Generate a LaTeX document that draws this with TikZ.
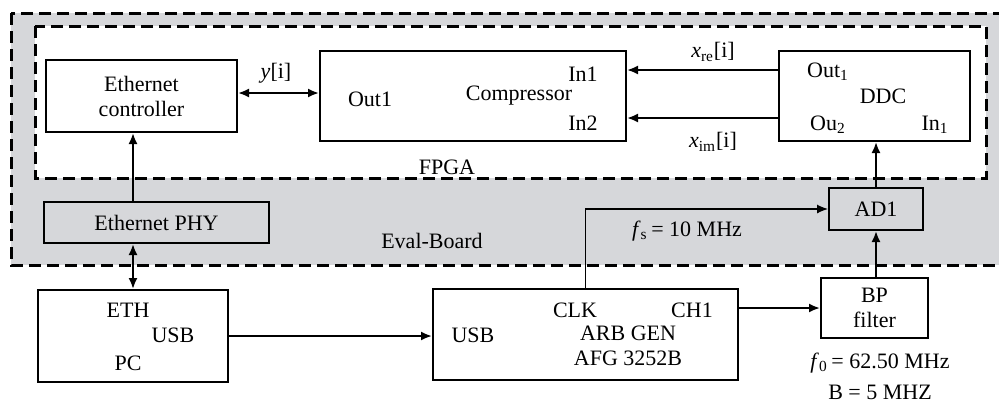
\documentclass[tikz,border=0pt]{standalone}
\usepackage{fontspec}
\setmainfont{Liberation Serif}
\usetikzlibrary{arrows.meta}
\definecolor{boardgray}{RGB}{214,215,218}
\tikzset{
	>={Latex[length=5.5pt,width=4.5pt]},
	blk/.style={draw, line width=1pt, inner sep=0pt},
	sig/.style={line width=1pt},
	frame/.style={line width=1.5pt, dash pattern=on 6pt off 3pt},
}

\begin{document}
\begin{tikzpicture}[x=0.5pt, y=-0.5pt, font=\fontsize{11}{12.5}\selectfont]
			%%%%% START %%%%%
			\useasboundingbox (0,0) rectangle (999,403);
			\clip (0,0) rectangle (999,403);
			
			% board and fpga frames
			\draw[frame, fill=boardgray] (11,13) rectangle (1012,265);
			\draw[frame, fill=white] (35,26) rectangle (986,178);
			\node (fpgalbl) at (447,167) {FPGA};
			\node (evallbl) at (432,241) {Eval-Board};
			
			% fpga blocks
			\node[blk, minimum width=95.5pt, minimum height=36pt, align=center] (ethctrl) at (141.5,96) {Ethernet\\controller};
			\node[blk, minimum width=153pt, minimum height=45pt] (comp) at (473,96) {};
			\node (compname) at (519,96) {Compressor};
			\node (compout) at (370,99) {Out1};
			\node (compin1) at (583,74) {In1};
			\node (compin2) at (583,123) {In2};
			
			\node[blk, minimum width=95.5pt, minimum height=45pt] (ddc) at (874.5,96) {};
			\node (ddcname) at (883,96) {DDC};
			\node (ddcout1) at (828,72) {Out\textsubscript{1}};
			\node (ddcout2) at (828,125) {Ou\textsubscript{2}};
			\node (ddcin1) at (935,125) {In\textsubscript{1}};
			
			% board blocks
			\node[blk, fill=boardgray, minimum width=112.5pt, minimum height=20.5pt] (phy) at (156.5,222.5) {Ethernet PHY};
			\node[blk, fill=boardgray, minimum width=47pt, minimum height=21pt] (ad1) at (876,209) {AD1};
			
			% lab equipment
			\node[blk, minimum width=95pt, minimum height=46pt] (pc) at (133,336) {};
			\node (pceth) at (128,310) {ETH};
			\node (pcusb) at (173,335) {USB};
			\node (pcname) at (128,363) {PC};
			
			\node[blk, minimum width=152.5pt, minimum height=45.5pt] (arb) at (585.5,334.5) {};
			\node (arbusb) at (473,335) {USB};
			\node (arbclk) at (575,310) {CLK};
			\node (arbch1) at (692,310) {CH1};
			\node (arbname) at (628,333) {ARB GEN};
			\node (arbtype) at (628,358) {AFG 3252B};
			
			\node[blk, minimum width=53.5pt, minimum height=30pt, align=center] (bp) at (874.5,308) {BP\\filter};
			\node (bpf0) at (880,363) {\textit{f}\textsubscript{0}\,= 62.50 MHz};
			\node (bpbw) at (880,392) {B = 5 MHZ};
			
			% signal paths
			\draw[sig, <->] ([yshift=1.5pt]ethctrl.east) -- ([yshift=1.5pt]comp.west);
			\node (ylbl) at (276,73) {\textit{y}[i]};
			\draw[sig, ->] ([yshift=13pt]ddc.west) -- ([yshift=13pt]comp.east);
			\node (xrelbl) at (713,52) {\textit{x}\textsubscript{re}[i]};
			\draw[sig, ->] ([yshift=-11pt]ddc.west) -- ([yshift=-11pt]comp.east);
			\node (ximlbl) at (713,142) {\textit{x}\textsubscript{im}[i]};
			
			\draw[sig, ->] (ad1.north) -- (ad1.north |- ddc.south);
			\draw[sig, ->] (ad1.south |- bp.north) -- (ad1.south);
			\draw[sig, ->] (pc.north |- phy.north) -- (pc.north |- ethctrl.south);
			\draw[sig, <->] (pc.north) -- (pc.north |- phy.south);
			\draw[sig, ->] (pc.east) -- (pc.east -| arb.west);
			\draw[sig, ->] (bp.west -| arb.east) -- (bp.west);
			\draw[line width=0.6pt, ->] (arb.north) |- (ad1.west);
			\node (fslbl) at (687,231) {\textit{f}\textsubscript{s}\,= 10 MHz};
			
			%%%%% END %%%%%
\end{tikzpicture}
\end{document}
